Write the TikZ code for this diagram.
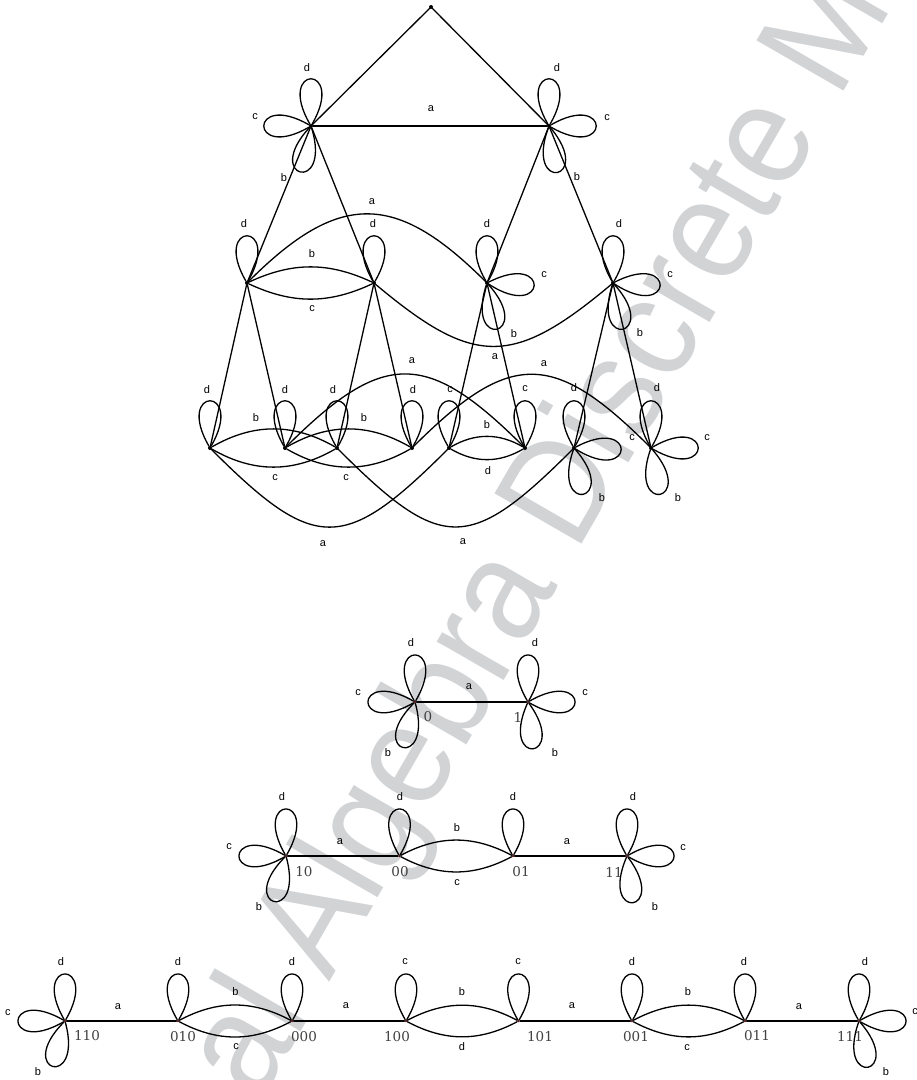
\documentclass[tikz,border=0pt]{standalone}
\usepackage{fontspec}
\usepackage{graphicx}
\setmainfont{Liberation Sans}
\newfontfamily\numfont{DejaVu Serif}
\definecolor{wm}{RGB}{210,211,213}
\definecolor{dotred}{RGB}{90,20,20}
\newcommand\petal[5]{%
  \draw[ln] (#1) .. controls +(#2-30:72) and +(#2+30:72) .. (#1);
  \node[lab] at (#4,-#5) {#3};}
\begin{document}
\begin{tikzpicture}[x=1pt,y=1pt,
  ln/.style={line width=1.3pt, line cap=round, line join=round},
  lab/.style={font=\fontsize{11}{12}\selectfont, inner sep=0pt},
  num/.style={font=\numfont\fontsize{13.5}{14}\selectfont, text=black!75, inner sep=0pt},
  vdot/.style={circle, fill=black, inner sep=0pt, minimum size=4pt},
  rdot/.style={circle, fill=dotred, inner sep=0pt, minimum size=2.8pt}]
\useasboundingbox (0,0) rectangle (917,-1080);
\begin{scope}
\clip (0,0) rectangle (917,-1080);
\node[font=\fontsize{146}{146}\selectfont, text=wm, rotate=60, anchor=base west, inner sep=0pt] (wmk) at (259,-1104) {\scalebox{0.91}[1]{al Algebra Discrete M}};
\end{scope}

% ---------- top tree ----------
\node[vdot] (T) at (431,-7) {};
\node[vdot] (L1) at (311,-126) {};
\node[vdot] (R1) at (549,-126) {};
\node[vdot] (A2) at (247,-283) {};
\node[vdot] (B2) at (374,-283) {};
\node[vdot] (C2) at (487,-283) {};
\node[vdot] (D2) at (613,-283) {};
\node[vdot] (N1) at (210,-448) {};
\node[vdot] (N2) at (285,-448) {};
\node[vdot] (N3) at (337,-448) {};
\node[vdot] (N4) at (412,-448) {};
\node[vdot] (N5) at (449,-448) {};
\node[vdot] (N6) at (525,-448) {};
\node[vdot] (N7) at (574,-448) {};
\node[vdot] (N8) at (651,-448) {};

\draw[ln] (L1) -- (T) -- (R1);
\draw[ln] (L1) -- (R1);
\draw[ln] (A2) -- (L1) -- (B2);
\draw[ln] (C2) -- (R1) -- (D2);
\draw[ln] (N1) -- (A2) -- (N2);
\draw[ln] (N3) -- (B2) -- (N4);
\draw[ln] (N5) -- (C2) -- (N6);
\draw[ln] (N7) -- (D2) -- (N8);
\draw[ln] (A2) to[bend left=25] (B2);
\draw[ln] (A2) to[bend right=25] (B2);
\draw[ln] (A2) to[out=45,in=135,looseness=1.38] (C2);
\draw[ln] (B2) to[out=-40,in=-140,looseness=1.4] (D2);
\draw[ln] (N1) to[bend left=30] (N3);
\draw[ln] (N1) to[bend right=30] (N3);
\draw[ln] (N2) to[bend left=30] (N4);
\draw[ln] (N2) to[bend right=30] (N4);
\draw[ln] (N5) to[bend left=30] (N6);
\draw[ln] (N5) to[bend right=30] (N6);
\draw[ln] (N2) to[out=45,in=135,looseness=1.48] (N6);
\draw[ln] (N4) to[out=45,in=135,looseness=1.48] (N8);
\draw[ln] (N1) to[out=-45,in=-135,looseness=1.59] (N5);
\draw[ln] (N3) to[out=-45,in=-135,looseness=1.6] (N7);

\node[lab] at (431,-109) {a};
\node[lab] at (312,-254) {b};
\node[lab] at (312,-309) {c};
\node[lab] at (372,-202) {a};
\node[lab] at (495,-357) {a};
\node[lab] at (256,-418) {b};
\node[lab] at (275,-478) {c};
\node[lab] at (364,-418) {b};
\node[lab] at (346,-478) {c};
\node[lab] at (487,-425) {b};
\node[lab] at (488,-471) {d};
\node[lab] at (412,-361) {a};
\node[lab] at (544,-364) {a};
\node[lab] at (323,-544) {a};
\node[lab] at (463,-542) {a};

\petal{L1}{90}{d}{307}{68}
\petal{L1}{180}{c}{255}{117}
\petal{L1}{-103}{b}{284}{178}
\petal{R1}{90}{d}{557}{68}
\petal{R1}{0}{c}{607}{118}
\petal{R1}{-80}{b}{577}{177}
\petal{A2}{90}{d}{244}{224}
\petal{B2}{90}{d}{373}{224}
\petal{C2}{90}{d}{487}{224}
\petal{C2}{-3}{c}{544}{275}
\petal{C2}{-78}{b}{514}{334}
\petal{D2}{90}{d}{619}{224}
\petal{D2}{-3}{c}{670}{275}
\petal{D2}{-78}{b}{640}{333}
\petal{N1}{90}{d}{207}{390}
\petal{N2}{90}{d}{285}{390}
\petal{N3}{90}{d}{333}{390}
\petal{N4}{90}{d}{413}{390}
\petal{N5}{90}{c}{450}{390}
\petal{N6}{90}{c}{525}{389}
\petal{N7}{90}{d}{574}{388}
\petal{N7}{-2}{c}{632}{438}
\petal{N7}{-79}{b}{602}{498}
\petal{N8}{90}{d}{657}{388}
\petal{N8}{0}{c}{707}{438}
\petal{N8}{-79}{b}{678}{498}

% ---------- level 1 graph ----------
\node[rdot] (P0) at (415,-702) {};
\node[rdot] (P1) at (528,-702) {};
\draw[ln] (P0) -- (P1);
\node[lab] at (469,-687) {a};
\node[num] at (428,-717) {0};
\node[num] at (518,-717) {1};
\petal{P0}{90}{d}{411}{643}
\petal{P0}{180}{c}{358}{693}
\petal{P0}{-105}{b}{388}{753}
\petal{P1}{90}{d}{535}{643}
\petal{P1}{0}{c}{585}{693}
\petal{P1}{-84}{b}{555}{753}

% ---------- level 2 graph ----------
\node[rdot] (Q10) at (286,-856) {};
\node[rdot] (Q00) at (399.5,-856) {};
\node[rdot] (Q01) at (513,-856) {};
\node[rdot] (Q11) at (627,-856) {};
\draw[ln] (Q10) -- (Q00);
\draw[ln] (Q00) to[bend left=28] (Q01);
\draw[ln] (Q00) to[bend right=28] (Q01);
\draw[ln] (Q01) -- (Q11);
\node[lab] at (340,-842) {a};
\node[lab] at (457,-828) {b};
\node[lab] at (457,-883) {c};
\node[lab] at (567,-842) {a};
\node[num] at (304,-872) {10};
\node[num] at (400,-872) {00};
\node[num] at (521,-872) {01};
\node[num] at (614,-872) {11};
\petal{Q10}{90}{d}{282}{797}
\petal{Q10}{180}{c}{229}{847}
\petal{Q10}{-105}{b}{259}{907}
\petal{Q00}{90}{d}{400}{797}
\petal{Q01}{90}{d}{513}{797}
\petal{Q11}{90}{d}{633}{797}
\petal{Q11}{0}{c}{683}{848}
\petal{Q11}{-83}{b}{655}{907}

% ---------- level 3 graph ----------
\node[rdot] (R110) at (65,-1021) {};
\node[rdot] (R010) at (178,-1021) {};
\node[rdot] (R000) at (292,-1021) {};
\node[rdot] (R100) at (406,-1021) {};
\node[rdot] (R101) at (518.5,-1021) {};
\node[rdot] (R001) at (632,-1021) {};
\node[rdot] (R011) at (745,-1021) {};
\node[rdot] (R111) at (859,-1021) {};
\draw[ln] (R110) -- (R010);
\draw[ln] (R010) to[bend left=28] (R000);
\draw[ln] (R010) to[bend right=28] (R000);
\draw[ln] (R000) -- (R100);
\draw[ln] (R100) to[bend left=28] (R101);
\draw[ln] (R100) to[bend right=28] (R101);
\draw[ln] (R101) -- (R001);
\draw[ln] (R001) to[bend left=28] (R011);
\draw[ln] (R001) to[bend right=28] (R011);
\draw[ln] (R011) -- (R111);
\node[lab] at (118,-1007) {a};
\node[lab] at (235.5,-992) {b};
\node[lab] at (236,-1047) {c};
\node[lab] at (346,-1006) {a};
\node[lab] at (462,-992) {b};
\node[lab] at (462,-1047) {d};
\node[lab] at (572,-1006) {a};
\node[lab] at (688,-992) {b};
\node[lab] at (687,-1048) {c};
\node[lab] at (799,-1007) {a};
\node[num] at (87,-1036) {110};
\node[num] at (183,-1037) {010};
\node[num] at (304,-1037) {000};
\node[num] at (397,-1037) {100};
\node[num] at (540,-1037) {101};
\node[num] at (636,-1037) {001};
\node[num] at (757,-1036) {011};
\node[num] at (850,-1036) {111};
\petal{R110}{90}{d}{61}{962}
\petal{R110}{180}{c}{8}{1013}
\petal{R110}{-105}{b}{38}{1072}
\petal{R010}{90}{d}{178}{962}
\petal{R000}{90}{d}{292}{962}
\petal{R100}{90}{c}{405}{962}
\petal{R101}{90}{c}{518}{962}
\petal{R001}{90}{d}{632}{962}
\petal{R011}{90}{d}{744}{962}
\petal{R111}{90}{d}{865}{962}
\petal{R111}{0}{c}{915}{1012}
\petal{R111}{-79}{b}{886}{1072}
\end{tikzpicture}
\end{document}
